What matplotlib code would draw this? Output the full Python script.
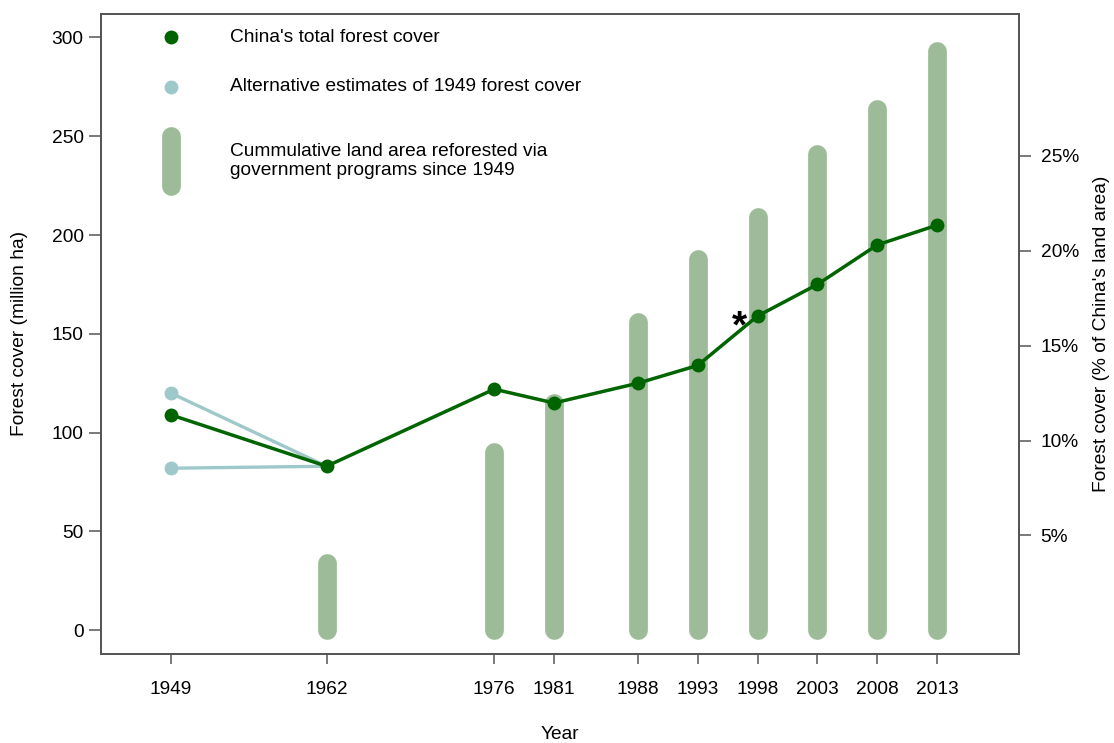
import matplotlib
matplotlib.use("Agg")
import matplotlib.pyplot as plt

plt.rcParams['font.family'] = ['Liberation Sans', 'DejaVu Sans']

# China's total forest cover (million ha)
years = [1949, 1962, 1976, 1981, 1988, 1993, 1998, 2003, 2008, 2013]
forest_cover = [109, 83, 122, 115, 125, 134, 159, 175, 195, 205]

# alternative estimates of 1949 forest cover
alt_years = [1949, 1949]
alt_cover = [120, 82]

# cumulative land area reforested via government programs since 1949
refor_years = [1962, 1976, 1981, 1988, 1993, 1998, 2003, 2008, 2013]
refor_area = [34, 90, 115, 156, 188, 209, 241, 264, 293]

tick_years = years
land_area = 960.0  # million ha, for the % axis
pct_ticks = [5, 10, 15, 20, 25]

dark = "#006400"
bar_col = "#9dbb98"
alt_col = "#9fc8ca"
axis_col = "#555555"
fs = 13.8

fig = plt.figure(figsize=(11.14, 7.43), dpi=100)
ax = fig.add_axes([0.0907, 0.1198, 0.824, 0.8618])

# reforestation bars (thick rounded lines)
ax.vlines(refor_years, 0, refor_area, colors=bar_col, linewidth=13.5,
          capstyle="round", zorder=1)

# alternative 1949 estimates
for a in alt_cover:
    ax.plot([1949, 1962], [a, forest_cover[1]], color=alt_col, lw=2.4, zorder=2)
ax.plot(alt_years, alt_cover, "o", color=alt_col, ms=10, mec="none", zorder=2)

# main series
ax.plot(years, forest_cover, "-o", color=dark, lw=2.5, ms=10, mec="none", zorder=3)
ax.text(1996.5, 153, "*", fontsize=28, fontweight="bold", ha="center", va="center")

# legend drawn in data space
ax.plot([1949], [300], "o", color=dark, ms=10, mec="none")
ax.plot([1949], [275], "o", color=alt_col, ms=10, mec="none")
ax.plot([1949, 1949], [225, 250], color=bar_col, lw=13.5, solid_capstyle="round")
ax.text(1953.9, 300, "China's total forest cover", fontsize=fs, va="center")
ax.text(1953.9, 275, "Alternative estimates of 1949 forest cover", fontsize=fs, va="center")
ax.text(1953.9, 237.5, "Cummulative land area reforested via\ngovernment programs since 1949",
        fontsize=fs, va="center", linespacing=1.15)

ax.set_xlim(1943.16, 2019.84)
ax.set_ylim(-12, 312)
ax.set_xticks(tick_years)
ax.set_xticklabels([str(y) for y in tick_years], fontsize=fs)
ax.set_yticks([0, 50, 100, 150, 200, 250, 300])
ax.tick_params(axis="y", labelsize=fs, length=8.5, width=1.1, color=axis_col, pad=4)
ax.tick_params(axis="x", length=7.5, width=1.1, color=axis_col, pad=12)
ax.set_xlabel("Year", fontsize=fs)
ax.set_ylabel("Forest cover (million ha)", fontsize=fs)
ax.xaxis.set_label_coords(0.5, -0.113)
ax.yaxis.set_label_coords(-0.08, 0.5)
for s in ax.spines.values():
    s.set_color(axis_col)
    s.set_linewidth(1.3)

ax2 = ax.twinx()
ax2.set_ylim(ax.get_ylim())
ax2.set_yticks([p * land_area / 100 for p in pct_ticks])
ax2.set_yticklabels([f"{p}%" for p in pct_ticks], fontsize=fs)
ax2.tick_params(axis="y", length=8.5, width=1.1, color=axis_col, pad=7)
ax2.set_ylabel("Forest cover (% of China's land area)", fontsize=fs)
ax2.yaxis.set_label_coords(1.081, 0.5)
for s in ax2.spines.values():
    s.set_color(axis_col)
    s.set_linewidth(1.3)

fig.savefig("out.png", dpi=100)
